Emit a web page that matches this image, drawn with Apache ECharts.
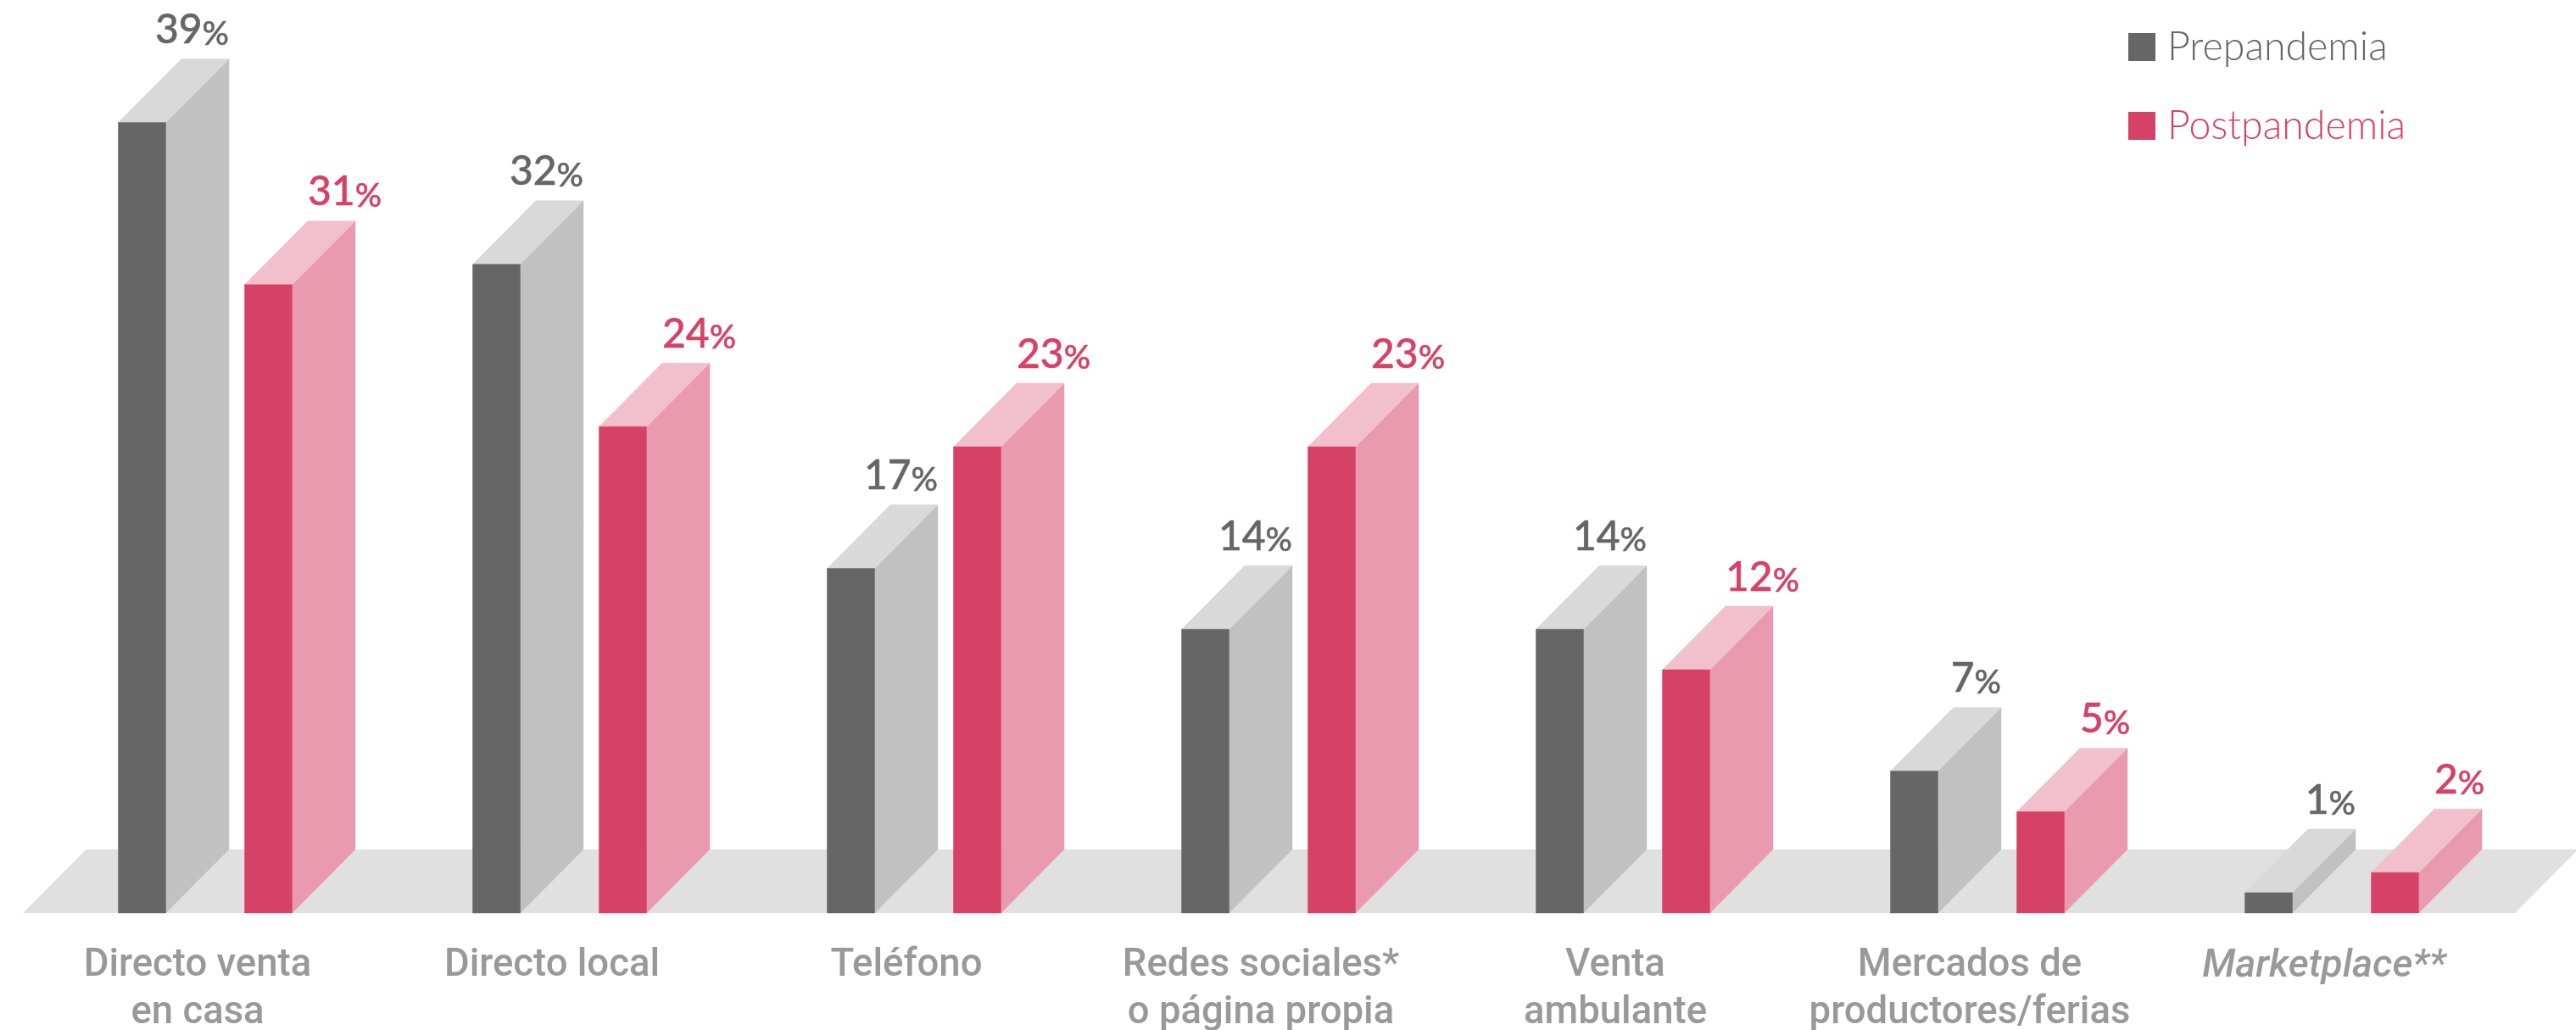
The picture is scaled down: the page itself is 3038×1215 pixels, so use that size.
<!DOCTYPE html>
<html><head><meta charset="utf-8">
<style>html,body{margin:0;padding:0;background:#fff}#c{width:3038px;height:1215px}</style>
<script src="https://cdn.jsdelivr.net/npm/echarts@6/dist/echarts.min.js"></script>
</head><body><div id="c"></div>
<script>
const categories = ['Directo venta\nen casa','Directo local','Teléfono','Redes sociales*\no página propia','Venta\nambulante','Mercados de\nproductores/ferias','Marketplace**'];
const prepandemia = [39,32,17,14,14,7,1];
const postpandemia = [31,24,23,23,12,5,2];
const seriesNames = ['Prepandemia','Postpandemia'];

const GRAY = {front:'#666666', side:'#c1c1c1', top:'#d9d9d9', text:'#666666'};
const PINK = {front:'#d64267', side:'#ea9aae', top:'#f2c0cc', text:'#d64267'};
const BAR_W = 56, DX = 74.5, DY = 75;
const numFont = {fontFamily:'Lato', fontWeight:500, lineWidth:0.5};

function prism(pal, offset, alignRight){
  return function(params, api){
    const i = api.value(0), v = api.value(1);
    const top = api.coord([i, v]), base = api.coord([i, 0]);
    const x0 = top[0] + offset, x1 = x0 + BAR_W, yT = top[1], yB = base[1];
    const poly = (points, fill) => ({type:'polygon', shape:{points}, style:{fill, stroke:fill, lineWidth:0.5}});
    return {type:'group', children:[
      poly([[x1,yB],[x1+DX,yB-DY],[x1+DX,yT-DY],[x1,yT]], pal.side),
      poly([[x0,yT],[x1,yT],[x1+DX,yT-DY],[x0+DX,yT-DY]], pal.top),
      poly([[x0,yT],[x1,yT],[x1,yB],[x0,yB]], pal.front),
      {type:'text', style:{
        x: alignRight ? x1+DX : x0+DX, y: yT-DY-10,
        align: alignRight ? 'right' : 'left', verticalAlign:'bottom',
        text:'{n|'+v+'}{p|%}',
        rich:{
          n:{fontSize:48, fill:pal.text, stroke:pal.text, ...numFont, verticalAlign:'bottom', lineHeight:56},
          p:{fontSize:39, fill:pal.text, stroke:pal.text, ...numFont, verticalAlign:'bottom', lineHeight:50}
        }
      }}
    ]};
  };
}

const chart = echarts.init(document.getElementById('c'), null, {renderer:'canvas'});
chart.setOption({
  animation:false,
  backgroundColor:'#ffffff',
  grid:{left:33, right:79, top:1, bottom:138, outerBoundsMode:'none'},
  legend:{
    left:2505, top:27, padding:[5,5,5,5], orient:'vertical', itemWidth:32, itemHeight:33, itemGap:46, icon:'rect',
    selectedMode:false,
    data:[
      {name:seriesNames[0], textStyle:{color:GRAY.text}},
      {name:seriesNames[1], textStyle:{color:PINK.text}}
    ],
    textStyle:{fontFamily:'Lato', fontWeight:300, fontSize:46.5, lineHeight:33, padding:[0,0,0,9]}
  },
  xAxis:{
    type:'category', data:categories,
    axisLine:{show:false}, axisTick:{show:false},
    axisLabel:{
      interval:0, margin:35, color:'#999999', fontFamily:'Roboto', fontWeight:500, fontSize:45.5, lineHeight:56,
      padding:[0,18,0,0],
      formatter:v => v==='Marketplace**' ? '{i|'+v+'}' : v,
      rich:{i:{fontStyle:'italic', color:'#999999', fontFamily:'Roboto', fontWeight:500, fontSize:46, lineHeight:56}}
    }
  },
  yAxis:{type:'value', min:0, max:45, show:false},
  series:[
    {type:'custom', name:'ground', silent:true, z:1, data:[[0,0]], encode:{x:0,y:1},
     renderItem:(params, api)=>{
       const cs = params.coordSys, yB = api.coord([0,0])[1], L = cs.x-6, R = cs.x+cs.width+7;
       return {type:'polygon', shape:{points:[[L,yB],[R,yB],[R+DX,yB-DY],[L+DX,yB-DY]]}, style:{fill:'#e0e0e0'}};
     }},
    {type:'custom', name:seriesNames[0], z:2, itemStyle:{color:GRAY.front}, encode:{x:0,y:1},
     data:prepandemia.map((v,i)=>[i,v]), renderItem:prism(GRAY,-102.5,true)},
    {type:'custom', name:seriesNames[1], z:2, itemStyle:{color:PINK.front}, encode:{x:0,y:1},
     data:postpandemia.map((v,i)=>[i,v]), renderItem:prism(PINK,46.5,false)}
  ]
});
</script></body></html>
